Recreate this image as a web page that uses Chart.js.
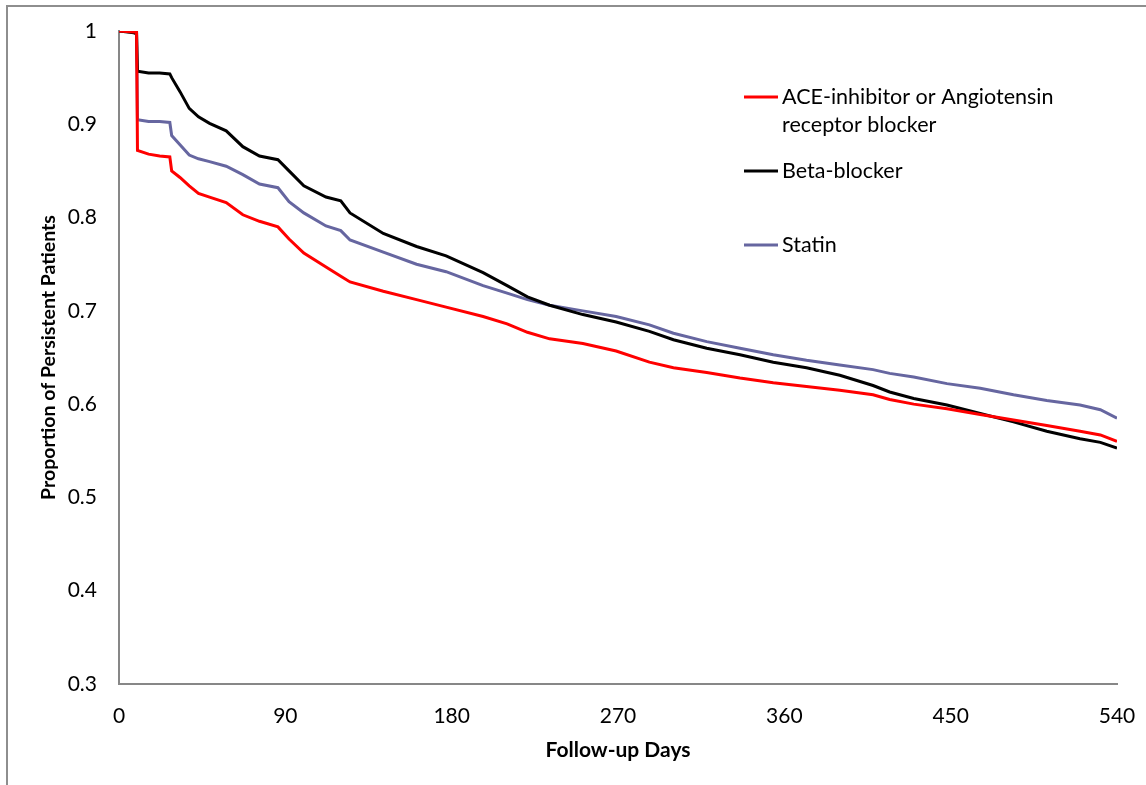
<!DOCTYPE html>
<html>
<head>
<meta charset="utf-8">
<script src="https://cdn.jsdelivr.net/npm/chart.js@4.4.1/dist/chart.umd.min.js"></script>
<style>
    html, body { margin: 0; padding: 0; background: #fff; overflow: hidden; }
    .wrap { position: relative; width: 1146px; height: 785px; }
    .frame { position: absolute; left: 6px; top: 5px; width: 1300px; height: 900px; border: 2px solid #8e8e8e; }
    canvas { position: absolute; left: 0; top: 0; }
</style>
</head>
<body>
<div class="wrap">
    <div class="frame"></div>
    <canvas id="persistChart" width="1146" height="785"></canvas>
</div>
<script>
// Follow-up days shared by all three curves
const days = [0, 8, 9.5, 10, 16, 22, 27.5, 28.5, 33, 38, 43, 49, 58, 67, 76, 86, 92, 100, 112, 120, 125,
    143, 161, 177, 197, 210, 221, 233, 251, 269, 287, 300, 318, 336, 354, 372, 390, 408, 417,
    430, 448, 466, 484, 502, 520, 531, 540];

const aceArb = [1.0, 0.999, 0.999, 0.872, 0.868, 0.866, 0.865, 0.850, 0.843, 0.834, 0.826, 0.822, 0.816, 0.803, 0.796, 0.790, 0.777, 0.762, 0.747, 0.737, 0.731,
    0.721, 0.712, 0.704, 0.694, 0.686, 0.677, 0.670, 0.665, 0.657, 0.645, 0.639, 0.634, 0.628, 0.623, 0.619, 0.615, 0.610, 0.605,
    0.600, 0.595, 0.589, 0.583, 0.577, 0.571, 0.567, 0.560];

const betaBlocker = [1.0, 0.998, 0.997, 0.957, 0.955, 0.955, 0.954, 0.950, 0.935, 0.917, 0.908, 0.901, 0.893, 0.876, 0.866, 0.862, 0.850, 0.834, 0.822, 0.818, 0.805,
    0.783, 0.769, 0.759, 0.741, 0.727, 0.715, 0.706, 0.696, 0.688, 0.678, 0.669, 0.660, 0.653, 0.645, 0.639, 0.631, 0.620, 0.613,
    0.606, 0.599, 0.590, 0.581, 0.571, 0.563, 0.559, 0.553];

const statin = [1.0, 0.999, 0.998, 0.905, 0.903, 0.903, 0.902, 0.888, 0.878, 0.867, 0.863, 0.860, 0.855, 0.846, 0.836, 0.832, 0.817, 0.805, 0.791, 0.786, 0.776,
    0.763, 0.750, 0.742, 0.727, 0.719, 0.712, 0.706, 0.700, 0.694, 0.685, 0.676, 0.667, 0.660, 0.653, 0.647, 0.642, 0.637, 0.633,
    0.629, 0.622, 0.617, 0.610, 0.604, 0.599, 0.594, 0.585];

const seriesNames = ['ACE-inhibitor or Angiotensin\nreceptor blocker', 'Beta-blocker', 'Statin'];
const seriesColors = ['#ff0000', '#000000', '#6666a0'];

const xTicks = [0, 90, 180, 270, 360, 450, 540];
const yTicks = [0.3, 0.4, 0.5, 0.6, 0.7, 0.8, 0.9, 1];
const yTickLabels = ['0.3', '0.4', '0.5', '0.6', '0.7', '0.8', '0.9', '1'];

const FONT = 'Lato, "Open Sans", sans-serif';

function toPoints(values) {
    return values.map((v, i) => ({ x: days[i], y: v }));
}

// Excel-style legend sitting inside the plot
const sideLegend = {
    id: 'sideLegend',
    afterDraw(chart) {
        const ctx = chart.ctx;
        const rows = [97, 171, 245];
        ctx.save();
        ctx.font = '21.5px ' + FONT;
        ctx.textBaseline = 'middle';
        ctx.textAlign = 'left';
        chart.data.datasets.forEach((ds, i) => {
            const y = rows[i];
            ctx.strokeStyle = ds.borderColor;
            ctx.lineWidth = 3;
            ctx.beginPath();
            ctx.moveTo(744, y);
            ctx.lineTo(778, y);
            ctx.stroke();
            ctx.fillStyle = '#000';
            ds.label.split('\n').forEach((line, k) => {
                ctx.fillText(line, 782, y + k * 28);
            });
        });
        ctx.restore();
    }
};

const chartCanvas = document.getElementById('persistChart');
new Chart(chartCanvas, {
    type: 'line',
    data: {
        datasets: [aceArb, betaBlocker, statin].map((vals, i) => ({
            label: seriesNames[i],
            data: toPoints(vals),
            borderColor: seriesColors[i],
            backgroundColor: seriesColors[i],
            borderWidth: 3,
            pointRadius: 0,
            tension: 0,
            fill: false
        }))
    },
    options: {
        responsive: false,
        animation: false,
        layout: { padding: { left: 0, right: 29, top: 31, bottom: 0 } },
        plugins: {
            legend: { display: false },
            tooltip: { enabled: false }
        },
        scales: {
            x: {
                type: 'linear',
                min: 0,
                max: 540,
                afterFit: scale => {
                    scale.height = 101;
                    scale.paddingLeft = 0;
                    scale.paddingRight = 0;
                },
                afterBuildTicks: scale => { scale.ticks = xTicks.map(v => ({ value: v })); },
                grid: { display: false, drawTicks: false },
                border: { display: true, color: '#878787', width: 2 },
                ticks: {
                    color: '#000',
                    padding: 20,
                    maxRotation: 0,
                    font: { family: FONT, size: 21 }
                },
                title: {
                    display: true,
                    text: 'Follow-up Days',
                    color: '#000',
                    padding: { top: 0, bottom: 22 },
                    font: { family: FONT, size: 21, weight: 'bold' }
                }
            },
            y: {
                min: 0.3,
                max: 1,
                afterFit: scale => {
                    scale.width = 119;
                    scale.paddingTop = 0;
                    scale.paddingBottom = 0;
                },
                afterBuildTicks: scale => { scale.ticks = yTicks.map(v => ({ value: v })); },
                grid: { display: false, drawTicks: false },
                border: { display: true, color: '#878787', width: 2 },
                ticks: {
                    color: '#000',
                    padding: 22,
                    font: { family: FONT, size: 21 },
                    callback: (value, index) => yTickLabels[index]
                },
                title: {
                    display: true,
                    text: 'Proportion of Persistent Patients',
                    color: '#000',
                    padding: { top: 37, bottom: 0 },
                    font: { family: FONT, size: 19.5, weight: 'bold' }
                }
            }
        }
    },
    plugins: [sideLegend]
});
</script>
</body>
</html>
